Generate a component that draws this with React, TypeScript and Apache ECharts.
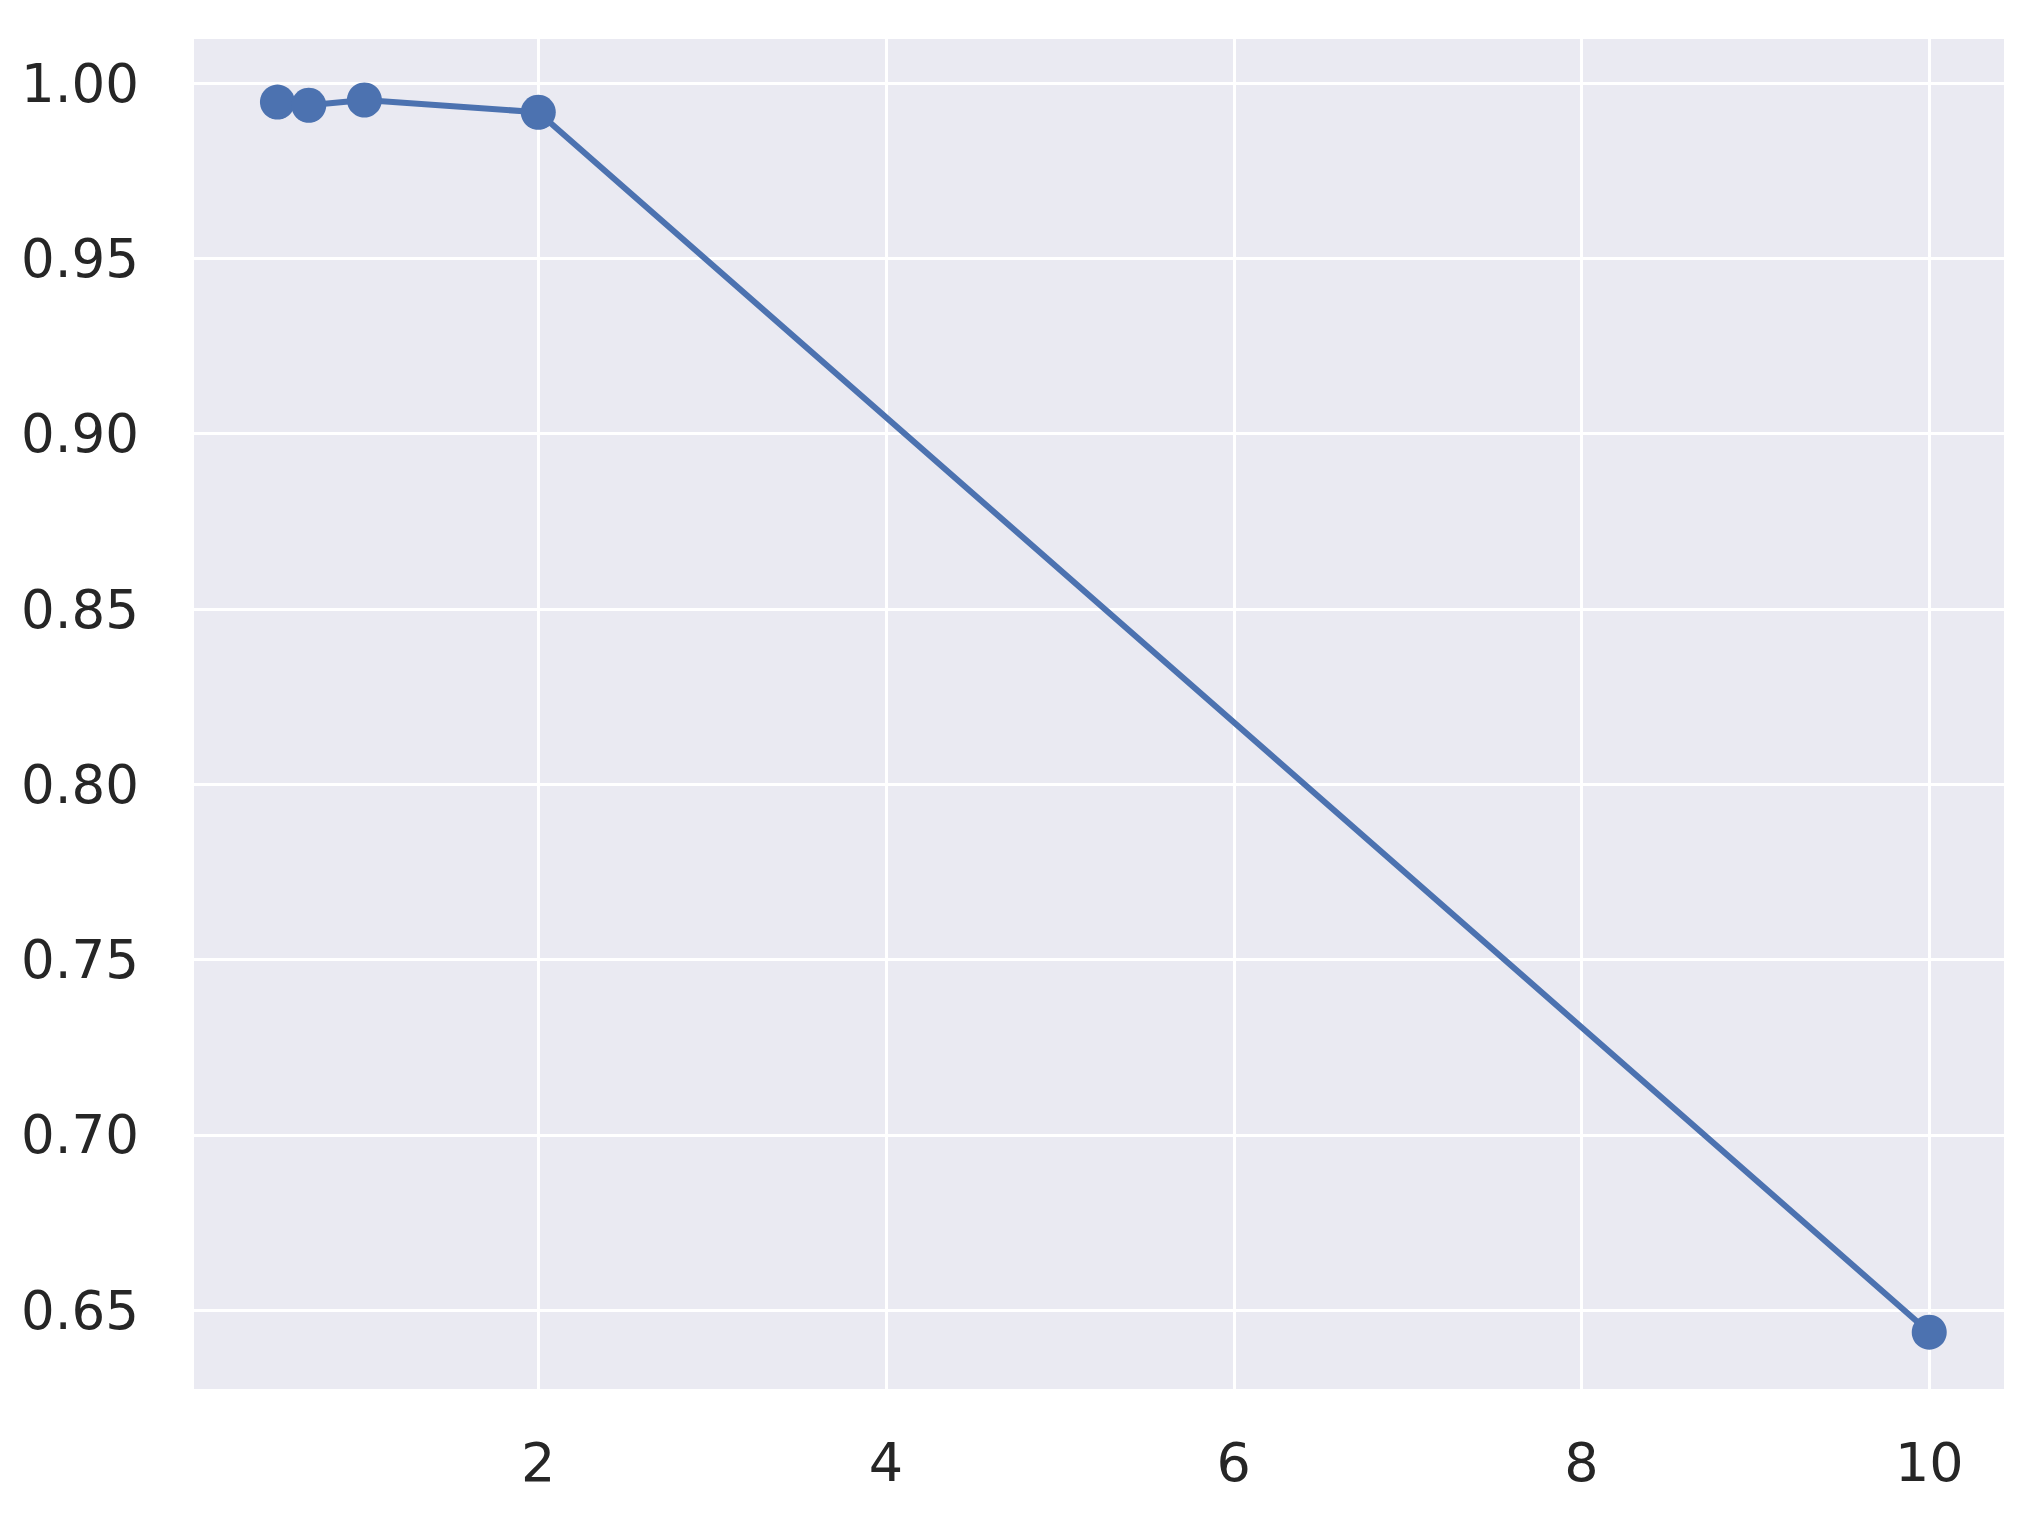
import React, { useEffect, useRef } from "react";
import * as echarts from "echarts";

const xValues = [0.5, 0.68, 1, 2, 10];
const yValues = [0.9946, 0.9937, 0.9952, 0.9917, 0.6437];
const xTicks = [2, 4, 6, 8, 10];
const yTicks = [0.65, 0.7, 0.75, 0.8, 0.85, 0.9, 0.95, 1.0];

export default function App() {
  const ref = useRef<HTMLDivElement>(null);
  useEffect(() => {
    document.body.style.margin = "0";
    const chart = echarts.init(ref.current!, null, { renderer: "svg" });
    const font = "DejaVu Sans";
    chart.setOption({
      animation: false,
      backgroundColor: "#ffffff",
      grid: {
        left: 194,
        right: 28,
        top: 39,
        bottom: 125,
        show: true,
        backgroundColor: "#EAEAF2",
        borderWidth: 0,
      },
      xAxis: {
        type: "value",
        min: 0.02,
        max: 10.43,
        axisLine: { show: false },
        axisTick: { show: false, customValues: xTicks },
        axisLabel: {
          customValues: xTicks,
          fontFamily: font,
          fontSize: 54,
          color: "#262626",
          margin: 46,
        },
        splitLine: { show: true, lineStyle: { color: "#ffffff", width: 3 } },
      },
      yAxis: {
        type: "value",
        min: 0.6275,
        max: 1.0126,
        axisLine: { show: false },
        axisTick: { show: false, customValues: yTicks },
        axisLabel: {
          customValues: yTicks,
          fontFamily: font,
          fontSize: 53,
          color: "#262626",
          margin: 55,
          formatter: (v: number) => v.toFixed(2),
        },
        splitLine: { show: true, lineStyle: { color: "#ffffff", width: 3 } },
      },
      series: [
        {
          type: "line",
          data: xValues.map((x, i) => [x, yValues[i]]),
          symbol: "circle",
          symbolSize: 35,
          lineStyle: { color: "#4C72B0", width: 6 },
          itemStyle: { color: "#4C72B0" },
        },
      ],
    });
    return () => chart.dispose();
  }, []);
  return <div ref={ref} style={{ width: 2032, height: 1514 }} />;
}
